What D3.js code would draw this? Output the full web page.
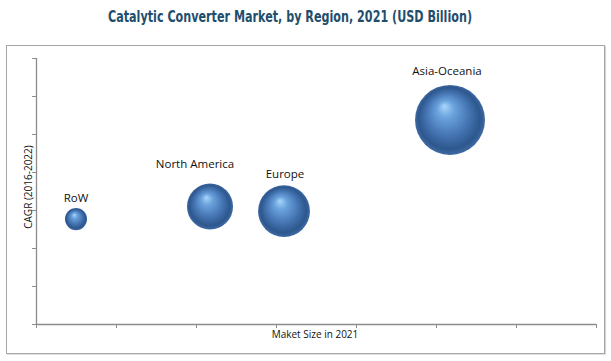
<!DOCTYPE html>
<html><head><meta charset="utf-8">
<script src="https://cdn.jsdelivr.net/npm/d3@7"></script>
<style>html,body{margin:0;padding:0;background:#fff;}svg{display:block;}</style>
</head><body>
<svg id="c" width="611" height="361"></svg>
<script>
const regions = ["RoW", "North America", "Europe", "Asia-Oceania"];
const marketSize = [0.5, 2.175, 3.1, 5.175];      // x position (market size, arbitrary units)
const cagr = [2.76, 3.09, 2.97, 5.37];            // y position (CAGR, arbitrary units)
const bubbleValue = [1.2, 5.2, 6.6, 12.0];        // bubble size
const xTicks = d3.range(0, 8);
const yTicks = d3.range(0, 8);

const svg = d3.select("#c");
const plot = {l: 36, r: 596, t: 58, b: 324};

// frame
svg.append("rect").attr("x", 6.5).attr("y", 45.5).attr("width", 598).attr("height", 308)
  .attr("fill", "none").attr("stroke", "#a6a6a6").attr("stroke-width", 1);
svg.append("line").attr("x1", 605.5).attr("x2", 605.5).attr("y1", 46).attr("y2", 354).attr("stroke", "#d4d4d4");
svg.append("line").attr("x1", 7).attr("x2", 606).attr("y1", 354.5).attr("y2", 354.5).attr("stroke", "#e2e2e2");

// title
svg.append("text").attr("x", 290).attr("y", 22).attr("text-anchor", "middle")
  .attr("font-family", "'Liberation Sans Narrow', 'Arial Narrow', 'DejaVu Sans Condensed', sans-serif")
  .attr("font-weight", "bold").attr("font-size", 15).attr("fill", "#1f4e6d")
  .attr("textLength", 364).attr("lengthAdjust", "spacingAndGlyphs")
  .text("Catalytic Converter Market, by Region, 2021 (USD Billion)");

const x = d3.scaleLinear().domain([0, 7]).range([plot.l, plot.r]);
const y = d3.scaleLinear().domain([0, 7]).range([plot.b, plot.t]);
const r = d3.scaleSqrt().domain([0, 12]).range([0, 35]);

const axisColor = "#8c8c8c";
const gx = svg.append("g").attr("transform", `translate(0,${plot.b})`)
  .call(d3.axisBottom(x).tickValues(xTicks).tickSize(4).tickFormat(""));
const gy = svg.append("g").attr("transform", `translate(${plot.l},0)`)
  .call(d3.axisLeft(y).tickValues(yTicks).tickSize(4).tickFormat(""));
[gx, gy].forEach(g => {
  g.select(".domain").attr("stroke", axisColor).attr("stroke-width", 1.3);
  g.selectAll(".tick line").attr("stroke", axisColor);
});
gx.select(".domain").attr("d", `M${plot.l},0.5H${plot.r}`);
gy.select(".domain").attr("d", `M0.5,${plot.b}V${plot.t}`);

// axis titles
const lblFont = "'Open Sans', 'Noto Sans', sans-serif";
svg.append("text").attr("x", 315).attr("y", 338).attr("text-anchor", "middle")
  .attr("font-family", lblFont).attr("font-size", 10).attr("fill", "#111")
  .text("Maket Size in 2021");
svg.append("text").attr("transform", "translate(32,187) rotate(-90)").attr("text-anchor", "middle")
  .attr("font-family", lblFont).attr("font-size", 10).attr("fill", "#111")
  .text("CAGR (2016-2022)");

// gradient
const defs = svg.append("defs");
const grad = defs.append("radialGradient").attr("id", "ball")
  .attr("cx", "50%").attr("cy", "50%").attr("r", "50%").attr("fx", "42%").attr("fy", "30%");
[[0, "#a9d6fb"], [0.25, "#6aa2dc"], [0.6, "#4676b4"], [0.88, "#2d578d"], [1, "#3f6aa4"]]
  .forEach(([o, c]) => grad.append("stop").attr("offset", o).attr("stop-color", c));

const data = regions.map((name, i) => ({name, mx: marketSize[i], cg: cagr[i], v: bubbleValue[i]}));
const labelNudge = {"RoW": [0, 0], "North America": [-15, -10], "Europe": [1, -1], "Asia-Oceania": [-3, -4]};

const g = svg.append("g");
g.selectAll("circle").data(data).join("circle")
  .attr("cx", d => x(d.mx)).attr("cy", d => y(d.cg)).attr("r", d => r(d.v))
  .attr("fill", "url(#ball)");
g.selectAll("text").data(data).join("text")
  .attr("x", d => x(d.mx) + labelNudge[d.name][0])
  .attr("y", d => y(d.cg) - r(d.v) - 6 + labelNudge[d.name][1])
  .attr("text-anchor", "middle").attr("font-family", lblFont).attr("font-size", 11.5)
  .attr("fill", "#111").text(d => d.name);
</script>
</body></html>
